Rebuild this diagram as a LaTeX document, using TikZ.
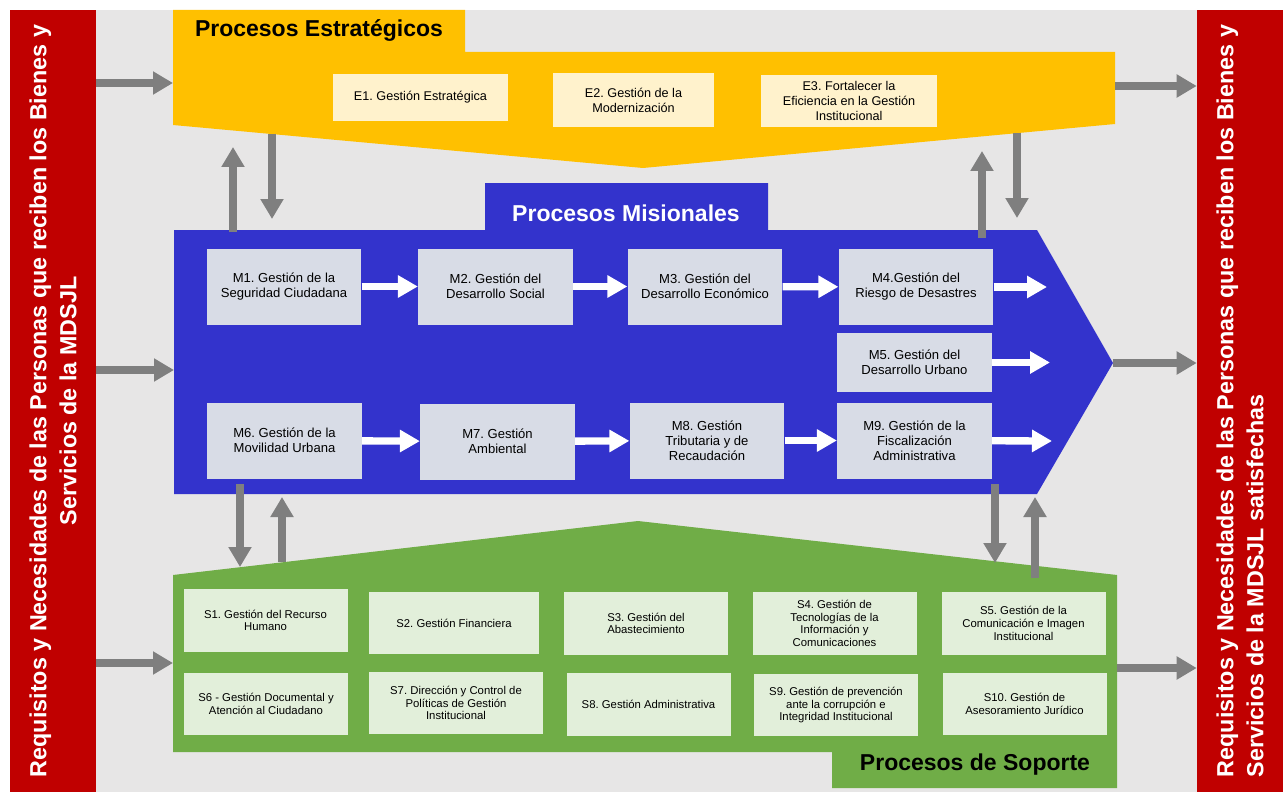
\documentclass[tikz,border=0pt]{standalone}
\usepackage{fontspec}
\setmainfont{Liberation Sans}
\usetikzlibrary{arrows.meta}
\frenchspacing
\definecolor{backdrop}{HTML}{E7E6E6}
\definecolor{barred}{HTML}{C00000}
\definecolor{estrat}{HTML}{FFC000}
\definecolor{ebg}{HTML}{FFF2CC}
\definecolor{misional}{HTML}{3333CC}
\definecolor{mbg}{HTML}{D8DCE6}
\definecolor{soporte}{HTML}{70AD47}
\definecolor{sbg}{HTML}{E2EFDA}
\definecolor{linkgray}{HTML}{7F7F7F}
\begin{document}
\begin{tikzpicture}[
  x = 0.75pt,
  y = -0.75pt,
  every node/.style = {
    inner sep = 0pt
  },
  ebox/.style = {
    fill = ebg,
    align = center,
    font = \fontsize{9.5}{11.25}\selectfont
  },
  mbox/.style = {
    fill = mbg,
    minimum width = 116pt,
    minimum height = 57pt,
    align = center,
    font = \fontsize{9.8}{11.25}\selectfont
  },
  sbox/.style = {
    fill = sbg,
    minimum width = 123pt,
    minimum height = 47pt,
    align = center,
    font = \fontsize{8.5}{9.5}\selectfont
  },
  title/.style = {
    font = \fontsize{17.25}{20}\selectfont\bfseries
  },
  bar/.style = {
    fill = barred,
    text = white,
    rotate = 90,
    minimum width = 586.5pt,
    minimum height = 64.5pt,
    font = \fontsize{17.5}{22.5}\selectfont\bfseries
  },
  flow/.style = {
    draw = white,
    line width = 5.5pt,
    -{Triangle[width = 16pt, length = 15pt]}
  },
  link/.style = {
    draw = linkgray,
    line width = 6pt,
    -{Triangle[width = 16.5pt, length = 15pt]}
  }
]
  \useasboundingbox (0, 0) rectangle (1283, 792);
  \fill[backdrop] (96, 10) rectangle (1197, 792);

  \fill[estrat] (173, 10) -- (465, 10) -- (465, 52) -- (1115, 52) -- (1115, 124)
    -- (643, 168) -- (173, 125) -- cycle;
  \fill[misional] (174, 230) -- (485, 230) -- (485, 183) -- (768, 183) -- (768, 230)
    -- (1037, 230) -- (1113, 363) -- (1037, 494) -- (174, 494) -- cycle;
  \fill[soporte] (173, 575) -- (638, 521) -- (1117, 575) -- (1117, 788)
    -- (832, 788) -- (832, 752) -- (173, 752) -- cycle;

  \node[bar, align = center] (reqin) at (53, 401)
    {Requisitos y Necesidades de las Personas que reciben los Bienes y\\Servicios de la MDSJL};
  \node[bar, align = left] (reqout) at (1240, 401)
    {Requisitos y Necesidades de las Personas que reciben los Bienes y\\Servicios de la MDSJL satisfechas};

  \node[title] (tit-e) at (319, 31) {Procesos Estratégicos};
  \node[title, text = white] (tit-m) at (626, 213) {Procesos Misionales};
  \node[title] (tit-s) at (975, 765) {Procesos de Soporte};

  \node[ebox, minimum width = 131pt, minimum height = 35pt] (e1) at (420.5, 97.5) {E1. Gestión Estratégica};
  \node[ebox, minimum width = 121pt, minimum height = 40.5pt] (e2) at (633.5, 100) {E2. Gestión de la\\Modernización};
  \node[ebox, minimum width = 132pt, minimum height = 39pt] (e3) at (849, 101) {E3. Fortalecer la\\Eficiencia en la Gestión\\Institucional};

  \node[mbox] (m1) at (284, 286.5) {M1. Gestión de la\\Seguridad Ciudadana};
  \node[mbox] (m2) at (495.5, 286.5) {M2. Gestión del\\Desarrollo Social};
  \node[mbox] (m3) at (705, 286.5) {M3. Gestión del\\Desarrollo Económico};
  \node[mbox] (m4) at (916, 287) {M4.Gestión del\\Riesgo de Desastres};
  \node[mbox, minimum height = 44pt] (m5) at (914.5, 362.5) {M5. Gestión del\\Desarrollo Urbano};
  \node[mbox] (m6) at (284.5, 440.5) {M6. Gestión de la\\Movilidad Urbana};
  \node[mbox] (m7) at (497.5, 441.5) {M7. Gestión\\Ambiental};
  \node[mbox] (m8) at (707, 440.5) {M8. Gestión\\Tributaria y de\\Recaudación};
  \node[mbox] (m9) at (914.5, 440.5) {M9. Gestión de la\\Fiscalización\\Administrativa};

  \node[sbox] (s1) at (265.5, 620.5) {S1. Gestión del Recurso\\Humano};
  \node[sbox, minimum width = 128pt] (s2) at (454, 623) {S2. Gestión Financiera};
  \node[sbox] (s3) at (646, 623.5) {S3. Gestión del\\Abastecimiento};
  \node[sbox] (s4) at (834.5, 623.5) {S4. Gestión de\\Tecnologías de la\\Información y\\Comunicaciones};
  \node[sbox] (s5) at (1023.5, 623.5) {S5. Gestión de la\\Comunicación e Imagen\\Institucional};
  \node[sbox] (s6) at (266, 704) {S6 - Gestión Documental y\\Atención al Ciudadano};
  \node[sbox, minimum width = 130pt] (s7) at (456, 703) {S7. Dirección y Control de\\Políticas de Gestión\\Institucional};
  \node[sbox] (s8) at (648.5, 704.5) {S8. Gestión Administrativa};
  \node[sbox] (s9) at (836, 705) {S9. Gestión de prevención\\ante la corrupción e\\Integridad Institucional};
  \node[sbox] (s10) at (1024.5, 704) {S10. Gestión de\\Asesoramiento Jurídico};

  \coordinate (in-e) at (173, 83);
  \coordinate (in-m) at (174, 370);
  \coordinate (in-s) at (173, 663);
  \coordinate (out-e) at (1115, 86);
  \coordinate (out-m) at (1113, 363);
  \coordinate (out-s) at (1117, 668);

  \coordinate (mis-up-l) at (233, 232);
  \coordinate (est-up-l) at (233, 147);
  \coordinate (est-dn-l) at (272, 134);
  \coordinate (mis-dn-l) at (272, 219);
  \coordinate (mis-up-r) at (982, 238);
  \coordinate (est-up-r) at (982, 151);
  \coordinate (est-dn-r) at (1017, 133);
  \coordinate (mis-dn-r) at (1017, 218);
  \coordinate (mis-bot-l) at (240, 484);
  \coordinate (sop-top-l) at (240, 567);
  \coordinate (sop-up-l) at (282, 562);
  \coordinate (mis-in-l) at (282, 497);
  \coordinate (mis-bot-r) at (995, 484);
  \coordinate (sop-top-r) at (995, 563);
  \coordinate (sop-up-r) at (1035, 578);
  \coordinate (mis-in-r) at (1035, 497);

  \coordinate (m4-out) at (1047, 287);
  \coordinate (m5-out) at (1050, 362.5);
  \coordinate (m9-out) at (1052, 441);

  \draw[link] (reqin.south |- in-e) -- (in-e);
  \draw[link] (reqin.south |- in-m) -- (in-m);
  \draw[link] (reqin.south |- in-s) -- (in-s);
  \draw[link] (out-e) -- (reqout.north |- out-e);
  \draw[link] (out-m) -- (reqout.north |- out-m);
  \draw[link] (out-s) -- (reqout.north |- out-s);

  \draw[link] (mis-up-l) -- (est-up-l);
  \draw[link] (est-dn-l) -- (mis-dn-l);
  \draw[link] (mis-up-r) -- (est-up-r);
  \draw[link] (est-dn-r) -- (mis-dn-r);
  \draw[link] (mis-bot-l) -- (sop-top-l);
  \draw[link] (sop-up-l) -- (mis-in-l);
  \draw[link] (mis-bot-r) -- (sop-top-r);
  \draw[link] (sop-up-r) -- (mis-in-r);

  \draw[flow] (m1) -- (m2);
  \draw[flow] (m2) -- (m3);
  \draw[flow] (m3) -- (m4);
  \draw[flow] (m4) -- (m4-out);
  \draw[flow] (m5) -- (m5-out);
  \draw[flow] (m6) -- (m7);
  \draw[flow] (m7) -- (m8);
  \draw[flow] (m8) -- (m9);
  \draw[flow] (m9) -- (m9-out);
\end{tikzpicture}
\end{document}
